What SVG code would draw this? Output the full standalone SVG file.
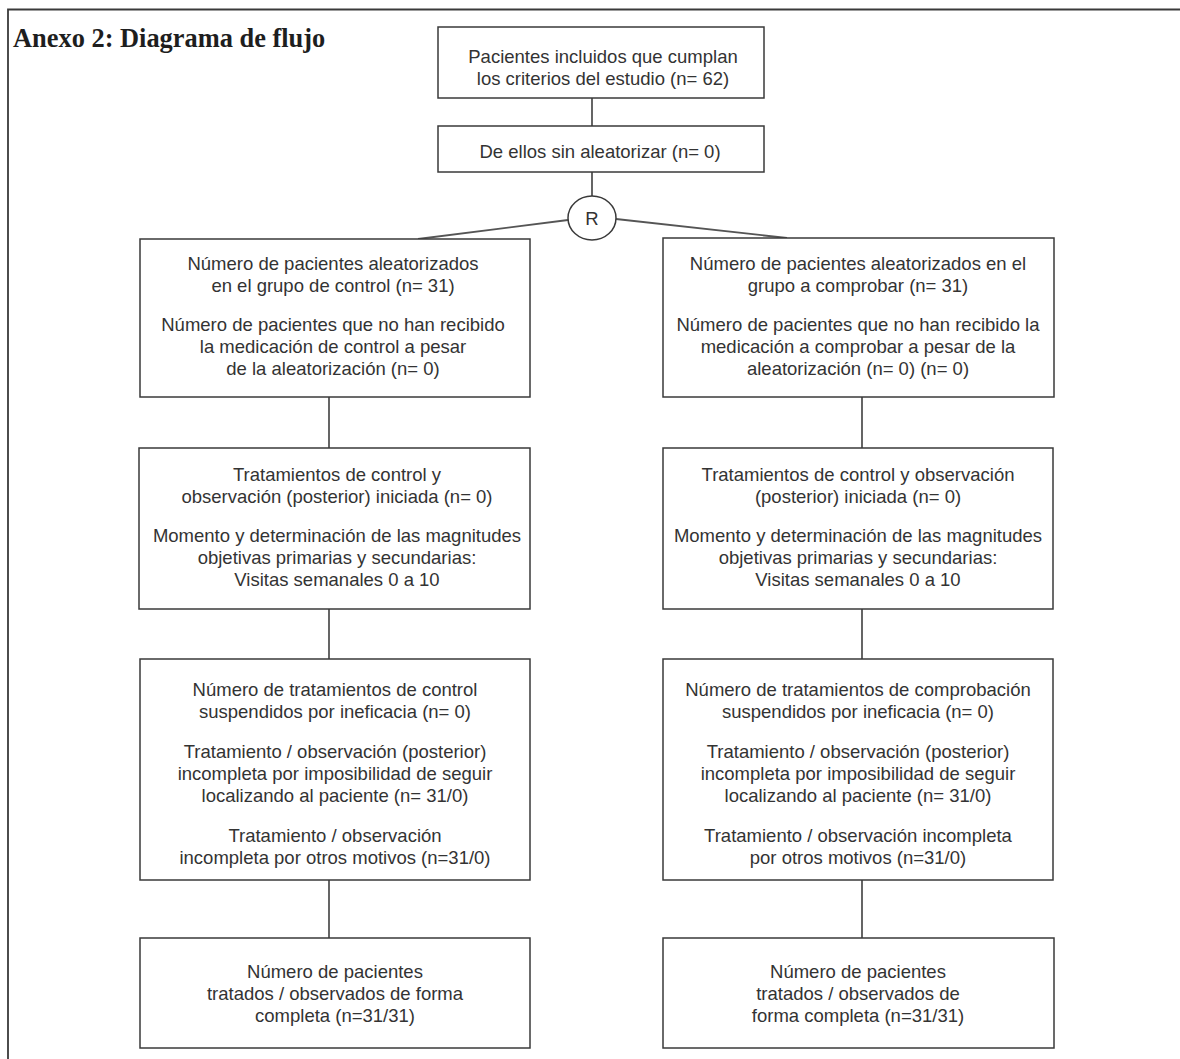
<svg xmlns="http://www.w3.org/2000/svg" width="1180" height="1059" viewBox="0 0 1180 1059">
<style>
.box{fill:#fff;stroke:#3a3a3a;stroke-width:1.5}
.con{fill:none;stroke:#555;stroke-width:1.8}
.t{font-family:"Liberation Sans",Arial,sans-serif;font-size:18.5px;fill:#333;text-anchor:middle}
.title{font-family:"Liberation Serif","Times New Roman",serif;font-size:26.4px;font-weight:bold;fill:#1e1e1e}
</style>
<rect x="0" y="0" width="1180" height="1059" fill="#fff"/>
<path d="M8,1059 V9.5 H1180" fill="none" stroke="#3a3a3a" stroke-width="1.8"/>
<text class="title" x="13" y="47">Anexo 2: Diagrama de flujo</text>
<g id="connectors">
<line class="con" x1="592" y1="98" x2="592" y2="126"/>
<line class="con" x1="592" y1="172" x2="592" y2="196"/>
<line class="con" x1="568" y1="220" x2="418" y2="239"/>
<line class="con" x1="616" y1="219" x2="787" y2="238"/>
<line class="con" x1="329" y1="397" x2="329" y2="448"/>
<line class="con" x1="862" y1="397" x2="862" y2="448"/>
<line class="con" x1="329" y1="609" x2="329" y2="659"/>
<line class="con" x1="862" y1="609" x2="862" y2="659"/>
<line class="con" x1="329" y1="880" x2="329" y2="938"/>
<line class="con" x1="862" y1="880" x2="862" y2="938"/>
</g>
<g id="n1">
<rect class="box" x="438" y="27" width="326" height="71"/>
<text class="t" x="603" y="63">Pacientes incluidos que cumplan</text>
<text class="t" x="603" y="85">los criterios del estudio (n= 62)</text>
</g>
<g id="n2">
<rect class="box" x="438" y="126" width="326" height="46"/>
<text class="t" x="600" y="158">De ellos sin aleatorizar (n= 0)</text>
</g>
<g id="r">
<ellipse class="box" cx="592" cy="218" rx="24" ry="22"/>
<text class="t" x="592" y="225">R</text>
</g>
<g id="l1">
<rect class="box" x="140" y="239" width="390" height="158"/>
<text class="t" x="333" y="270">Número de pacientes aleatorizados</text>
<text class="t" x="333" y="292">en el grupo de control (n= 31)</text>
<text class="t" x="333" y="331">Número de pacientes que no han recibido</text>
<text class="t" x="333" y="353">la medicación de control a pesar</text>
<text class="t" x="333" y="375">de la aleatorización (n= 0)</text>
</g>
<g id="r1">
<rect class="box" x="663" y="238" width="391" height="159"/>
<text class="t" x="858" y="270">Número de pacientes aleatorizados en el</text>
<text class="t" x="858" y="292">grupo a comprobar (n= 31)</text>
<text class="t" x="858" y="331">Número de pacientes que no han recibido la</text>
<text class="t" x="858" y="353">medicación a comprobar a pesar de la</text>
<text class="t" x="858" y="375">aleatorización (n= 0) (n= 0)</text>
</g>
<g id="l2">
<rect class="box" x="139" y="448" width="391" height="161"/>
<text class="t" x="337" y="481">Tratamientos de control y</text>
<text class="t" x="337" y="503">observación (posterior) iniciada (n= 0)</text>
<text class="t" x="337" y="542">Momento y determinación de las magnitudes</text>
<text class="t" x="337" y="564">objetivas primarias y secundarias:</text>
<text class="t" x="337" y="586">Visitas semanales 0 a 10</text>
</g>
<g id="r2">
<rect class="box" x="663" y="448" width="390" height="161"/>
<text class="t" x="858" y="481">Tratamientos de control y observación</text>
<text class="t" x="858" y="503">(posterior) iniciada (n= 0)</text>
<text class="t" x="858" y="542">Momento y determinación de las magnitudes</text>
<text class="t" x="858" y="564">objetivas primarias y secundarias:</text>
<text class="t" x="858" y="586">Visitas semanales 0 a 10</text>
</g>
<g id="l3">
<rect class="box" x="140" y="659" width="390" height="221"/>
<text class="t" x="335" y="696">Número de tratamientos de control</text>
<text class="t" x="335" y="718">suspendidos por ineficacia (n= 0)</text>
<text class="t" x="335" y="758">Tratamiento / observación (posterior)</text>
<text class="t" x="335" y="780">incompleta por imposibilidad de seguir</text>
<text class="t" x="335" y="802">localizando al paciente (n= 31/0)</text>
<text class="t" x="335" y="842">Tratamiento / observación</text>
<text class="t" x="335" y="864">incompleta por otros motivos (n=31/0)</text>
</g>
<g id="r3">
<rect class="box" x="663" y="659" width="390" height="221"/>
<text class="t" x="858" y="696">Número de tratamientos de comprobación</text>
<text class="t" x="858" y="718">suspendidos por ineficacia (n= 0)</text>
<text class="t" x="858" y="758">Tratamiento / observación (posterior)</text>
<text class="t" x="858" y="780">incompleta por imposibilidad de seguir</text>
<text class="t" x="858" y="802">localizando al paciente (n= 31/0)</text>
<text class="t" x="858" y="842">Tratamiento / observación incompleta</text>
<text class="t" x="858" y="864">por otros motivos (n=31/0)</text>
</g>
<g id="l4">
<rect class="box" x="140" y="938" width="390" height="110"/>
<text class="t" x="335" y="978">Número de pacientes</text>
<text class="t" x="335" y="1000">tratados / observados de forma</text>
<text class="t" x="335" y="1022">completa (n=31/31)</text>
</g>
<g id="r4">
<rect class="box" x="663" y="938" width="391" height="110"/>
<text class="t" x="858" y="978">Número de pacientes</text>
<text class="t" x="858" y="1000">tratados / observados de</text>
<text class="t" x="858" y="1022">forma completa (n=31/31)</text>
</g>
</svg>
